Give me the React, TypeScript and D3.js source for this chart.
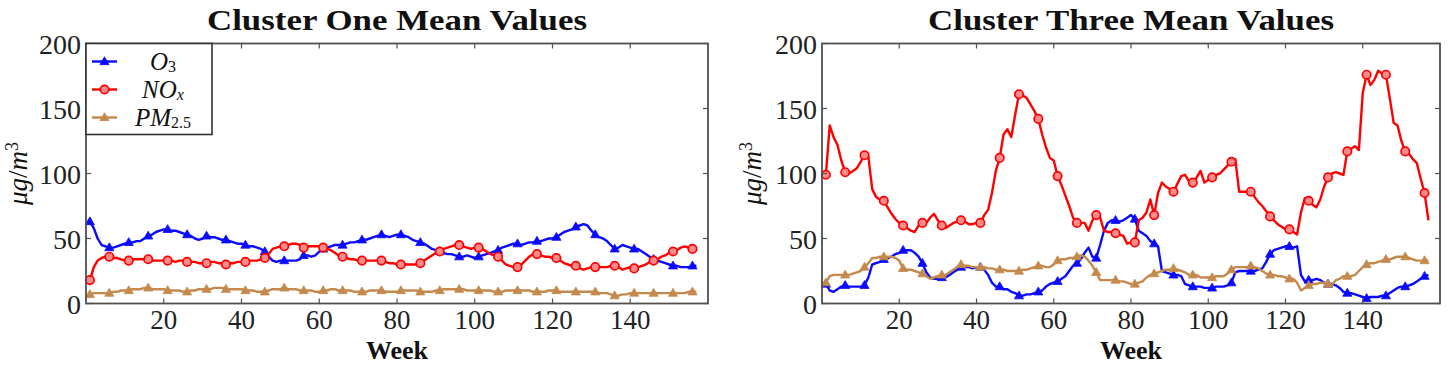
import React from 'react';
import * as d3 from 'd3';

// Weekly means, weeks 1..157
const weeks = d3.range(1, 158);

const clusterOneO3 = [
  63, 58, 50, 45, 44, 43, 43, 44, 45, 46,
  47, 47, 48, 48, 50, 52, 53, 55, 56, 57,
  57, 56, 56, 55, 54, 53, 52, 50, 49, 50,
  52, 51, 51, 50, 49, 49, 48, 47, 46, 46,
  45, 44, 44, 43, 42, 40, 36, 33, 32, 33,
  33, 33, 33, 33, 34, 37, 37, 36, 37, 40,
  42, 43, 44, 45, 45, 45, 46, 47, 47, 48,
  49, 49, 50, 51, 52, 53, 52, 51, 52, 53,
  53, 52, 51, 49, 48, 47, 46, 44, 42, 41,
  40, 39, 38, 38, 37, 36, 36, 37, 36, 35,
  36, 37, 38, 39, 40, 41, 43, 44, 45, 46,
  46, 45, 46, 47, 47, 48, 48, 49, 50, 50,
  51, 53, 55, 56, 57, 59, 60, 61, 60, 56,
  53, 51, 50, 48, 45, 42, 43, 45, 44, 43,
  42, 42, 40, 38, 36, 34, 33, 32, 31, 30,
  29, 29, 28, 28, 28, 29, 29,
];

const clusterOneNOx = [
  18, 28, 33, 35, 36, 36, 35, 35, 34, 33,
  33, 34, 34, 34, 34, 34, 33, 33, 33, 33,
  33, 33, 32, 33, 33, 32, 32, 32, 31, 31,
  31, 32, 32, 31, 31, 30, 31, 31, 32, 32,
  32, 33, 33, 33, 34, 35, 38, 42, 43, 44,
  44, 45, 46, 46, 45, 43, 44, 44, 44, 44,
  43, 42, 41, 39, 37, 36, 35, 34, 34, 33,
  33, 33, 33, 33, 33, 33, 32, 31, 31, 30,
  30, 30, 30, 30, 30, 31, 33, 35, 37, 39,
  40, 42, 43, 44, 45, 45, 44, 43, 42, 43,
  43, 42, 40, 38, 37, 36, 33, 30, 29, 28,
  28, 30, 33, 36, 38, 38, 37, 36, 36, 35,
  35, 33, 31, 30, 29, 29, 27, 26, 27, 28,
  28, 28, 28, 28, 29, 29, 28, 26, 27, 28,
  27, 28, 29, 30, 32, 33, 34, 36, 37, 39,
  40, 41, 43, 44, 43, 42, 42,
];

const clusterOnePM25 = [
  7, 8, 8, 8, 8, 8, 9, 9, 10, 10,
  10, 11, 11, 11, 12, 12, 11, 11, 11, 11,
  10, 10, 10, 10, 9, 9, 10, 10, 11, 11,
  11, 11, 12, 12, 12, 11, 11, 11, 11, 11,
  10, 10, 10, 9, 9, 9, 10, 11, 11, 11,
  12, 11, 11, 11, 10, 10, 10, 10, 9, 9,
  10, 10, 11, 11, 10, 10, 10, 10, 9, 9,
  9, 9, 10, 10, 10, 10, 9, 9, 9, 9,
  10, 10, 10, 10, 10, 9, 9, 9, 9, 10,
  10, 11, 11, 11, 11, 11, 11, 10, 10, 10,
  10, 10, 10, 10, 9, 9, 9, 10, 10, 10,
  10, 10, 10, 10, 9, 9, 9, 9, 10, 10,
  10, 9, 9, 9, 9, 9, 9, 9, 9, 9,
  9, 8, 8, 8, 7, 6, 6, 7, 7, 8,
  8, 8, 8, 8, 8, 8, 8, 8, 8, 8,
  8, 8, 8, 8, 9, 9, 9,
];

const clusterThreeO3 = [
  15, 10, 9, 11, 13, 14, 13, 13, 13, 13,
  14, 20, 30, 31, 32, 34, 35, 36, 38, 39,
  41, 41, 41, 39, 36, 31, 24, 20, 19, 19,
  20, 20, 22, 24, 26, 28, 28, 28, 27, 28,
  28, 26, 22, 16, 13, 13, 11, 11, 9, 8,
  6, 6, 7, 7, 8, 9, 10, 13, 15, 16,
  17, 19, 21, 25, 29, 31, 34, 39, 43, 36,
  35, 45, 56, 62, 64, 64, 63, 64, 66, 68,
  65, 56, 54, 52, 48, 46, 44, 25, 24, 23,
  22, 22, 21, 15, 14, 13, 13, 13, 12, 12,
  12, 13, 13, 13, 14, 16, 24, 25, 25, 25,
  25, 25, 26, 27, 32, 38, 41, 42, 43, 44,
  44, 43, 44, 22, 17, 18, 18, 19, 18, 16,
  15, 15, 14, 12, 9, 8, 8, 7, 6, 5,
  4, 5, 5, 5, 6, 6, 8, 10, 12, 13,
  13, 14, 15, 17, 19, 21, 22,
];

const clusterThreeNOx = [
  99, 137, 128, 122, 110, 101, 100, 102, 104, 109,
  114, 113, 88, 82, 80, 79, 74, 69, 65, 62,
  60, 58, 56, 55, 60, 62, 62, 66, 69, 64,
  60, 58, 60, 62, 63, 64, 63, 61, 61, 62,
  62, 68, 72, 85, 102, 112, 130, 134, 128, 145,
  161, 160, 158, 153, 148, 142, 130, 120, 112, 110,
  98, 91, 83, 75, 66, 62, 62, 62, 56, 64,
  68, 66, 56, 55, 55, 54, 53, 52, 46, 47,
  47, 64, 66, 70, 80, 68, 85, 93, 90, 88,
  86, 92, 98, 99, 94, 93, 97, 102, 93, 95,
  97, 99, 100, 103, 106, 109, 111, 86, 86, 86,
  86, 82, 78, 75, 71, 67, 64, 61, 59, 57,
  57, 55, 53, 70, 81, 79, 76, 74, 80, 90,
  97, 100, 101, 100, 99, 117, 119, 121, 118, 162,
  176, 168, 172, 179, 177, 176, 158, 139, 137, 125,
  117, 115, 111, 108, 96, 85, 64,
];

const clusterThreePM25 = [
  16, 21, 22, 22, 22, 22, 22, 23, 24, 25,
  28, 31, 35, 35, 36, 36, 36, 36, 35, 33,
  27, 26, 26, 25, 24, 23, 21, 19, 20, 21,
  22, 22, 24, 26, 28, 30, 29, 29, 28, 28,
  28, 28, 27, 27, 26, 26, 26, 25, 25, 25,
  25, 26, 26, 27, 28, 29, 29, 28, 28, 30,
  33, 34, 34, 35, 35, 36, 37, 36, 33, 29,
  24, 18, 18, 18, 18, 18, 17, 17, 16, 15,
  15, 16, 17, 20, 22, 23, 24, 25, 26, 26,
  27, 26, 25, 24, 22, 22, 22, 20, 20, 20,
  20, 21, 21, 21, 23, 26, 28, 28, 28, 28,
  29, 28, 27, 25, 23, 22, 22, 21, 21, 20,
  19, 19, 16, 10, 12, 14, 15, 15, 16, 16,
  15, 14, 18, 19, 21, 21, 21, 22, 25, 28,
  30, 31, 31, 32, 33, 34, 34, 35, 36, 36,
  36, 35, 34, 33, 33, 33, 33,
];

const xTicks = [20, 40, 60, 80, 100, 120, 140];
const yTicks = [0, 50, 100, 150, 200];

const WIDTH = 1449;
const HEIGHT = 365;
const FONT = "'Liberation Serif', 'Times New Roman', serif";
const FRAME = '#505050';

const BLUE = '#0a0aff';
const RED = '#ff0000';
const BROWN = '#c4894c';

type MarkerKind = 'triangle' | 'circle';
interface Series {
  key: string;
  values: number[];
  color: string;
  marker: MarkerKind;
}

const trianglePath = d3.symbol().type(d3.symbolTriangle).size(36)() as string;

function Marker({ kind, x, y, color }: { kind: MarkerKind; x: number; y: number; color: string }) {
  if (kind === 'circle') {
    return <circle cx={x} cy={y} r={4.2} fill="#ff8a8a" stroke={color} strokeWidth={1.7} />;
  }
  return <path d={trianglePath} transform={`translate(${x},${y + 0.5})`} fill={color} stroke={color} strokeWidth={0.8} />;
}

function LegendLabel({ kind, x, y }: { kind: string; x: number; y: number }) {
  const common = { x, y, textAnchor: 'middle' as const, fontFamily: FONT, fontSize: 25, fill: '#111' };
  if (kind === 'O3') {
    return (
      <text {...common}>
        <tspan fontStyle="italic">O</tspan>
        <tspan fontSize={16} dy={2.5}>3</tspan>
      </text>
    );
  }
  if (kind === 'NOx') {
    return (
      <text {...common}>
        <tspan fontStyle="italic">NO</tspan>
        <tspan fontSize={16} fontStyle="italic" dy={2.5}>x</tspan>
      </text>
    );
  }
  return (
    <text {...common}>
      <tspan fontStyle="italic">PM</tspan>
      <tspan fontSize={16} dy={2.5}>2.5</tspan>
    </text>
  );
}

interface PanelProps {
  left: number;
  right: number;
  top: number;
  bottom: number;
  title: string;
  titleLength: number;
  series: Series[];
  legend: boolean;
  yLabelX: number;
}

function Panel({ left, right, top, bottom, title, titleLength, series, legend, yLabelX }: PanelProps) {
  const x = d3.scaleLinear().domain([0, 160]).range([left, right]);
  const y = d3.scaleLinear().domain([0, 200]).range([bottom, top]);
  const line = d3
    .line<number>()
    .x((_, i) => x(weeks[i]))
    .y((v) => y(v));
  const cx = (left + right) / 2;
  const cy = (top + bottom) / 2;
  const tickLen = 5;

  return (
    <g>
      {/* title */}
      <text
        x={cx}
        y={30}
        textAnchor="middle"
        fontFamily={FONT}
        fontWeight="bold"
        fontSize={29}
        textLength={titleLength}
        lengthAdjust="spacingAndGlyphs"
        fill="#111"
      >
        {title}
      </text>

      {/* series */}
      {series.map((s) => (
        <g key={s.key}>
          <path d={line(s.values) as string} fill="none" stroke={s.color} strokeWidth={2.4} strokeLinejoin="round" />
          {s.values.map((v, i) =>
            i % 5 === 0 ? <Marker key={i} kind={s.marker} x={x(weeks[i])} y={y(v)} color={s.color} /> : null,
          )}
        </g>
      ))}

      {/* frame and ticks */}
      <rect x={left} y={top} width={right - left} height={bottom - top} fill="none" stroke={FRAME} strokeWidth={1.8} />
      {xTicks.map((t) => (
        <g key={`x${t}`}>
          <line x1={x(t)} x2={x(t)} y1={bottom} y2={bottom - tickLen} stroke={FRAME} strokeWidth={1.2} />
          <line x1={x(t)} x2={x(t)} y1={top} y2={top + tickLen} stroke={FRAME} strokeWidth={1.2} />
          <text x={x(t)} y={329} textAnchor="middle" fontFamily={FONT} fontSize={27} fill="#222">
            {t}
          </text>
        </g>
      ))}
      {yTicks.map((t) => (
        <g key={`y${t}`}>
          <line x1={left} x2={left + tickLen} y1={y(t)} y2={y(t)} stroke={FRAME} strokeWidth={1.2} />
          <line x1={right} x2={right - tickLen} y1={y(t)} y2={y(t)} stroke={FRAME} strokeWidth={1.2} />
          <text x={left - 5} y={y(t) + 10} textAnchor="end" fontFamily={FONT} fontSize={28} fill="#222">
            {t}
          </text>
        </g>
      ))}

      {/* axis labels */}
      <text x={cx} y={359} textAnchor="middle" fontFamily={FONT} fontWeight="bold" fontSize={26} fill="#111">
        Week
      </text>
      <text
        transform={`translate(${yLabelX},${cy}) rotate(-90)`}
        textAnchor="middle"
        fontFamily={FONT}
        fontSize={27}
        fill="#111"
      >
        <tspan fontStyle="italic">μg</tspan>
        <tspan>/</tspan>
        <tspan fontStyle="italic">m</tspan>
        <tspan fontSize={18} dy={-9}>3</tspan>
      </text>

      {/* legend */}
      {legend && (
        <g>
          <rect x={left} y={top} width={126} height={91} fill="#fff" stroke="#333" strokeWidth={1.6} />
          {series.map((s, i) => {
            const ly = top + 18 + i * 28;
            return (
              <g key={`lg${s.key}`}>
                <line x1={left + 6} x2={left + 31} y1={ly} y2={ly} stroke={s.color} strokeWidth={2.4} />
                <Marker kind={s.marker} x={left + 18.5} y={ly} color={s.color} />
                <LegendLabel kind={s.key} x={left + 77} y={ly + 8} />
              </g>
            );
          })}
        </g>
      )}
    </g>
  );
}

export default function App() {
  const clusterOne: Series[] = [
    { key: 'O3', values: clusterOneO3, color: BLUE, marker: 'triangle' },
    { key: 'NOx', values: clusterOneNOx, color: RED, marker: 'circle' },
    { key: 'PM25', values: clusterOnePM25, color: BROWN, marker: 'triangle' },
  ];
  const clusterThree: Series[] = [
    { key: 'O3', values: clusterThreeO3, color: BLUE, marker: 'triangle' },
    { key: 'NOx', values: clusterThreeNOx, color: RED, marker: 'circle' },
    { key: 'PM25', values: clusterThreePM25, color: BROWN, marker: 'triangle' },
  ];

  return (
    <svg
      width={WIDTH}
      height={HEIGHT}
      viewBox={`0 0 ${WIDTH} ${HEIGHT}`}
      style={{ position: 'absolute', left: 0, top: 0, background: '#fff' }}
    >
      <rect width={WIDTH} height={HEIGHT} fill="#fff" />
      <Panel
        left={86}
        right={708}
        top={43.5}
        bottom={303.5}
        title="Cluster One Mean Values"
        titleLength={380}
        series={clusterOne}
        legend={true}
        yLabelX={27}
      />
      <Panel
        left={822}
        right={1440}
        top={43.5}
        bottom={303.5}
        title="Cluster Three Mean Values"
        titleLength={406}
        series={clusterThree}
        legend={false}
        yLabelX={761}
      />
    </svg>
  );
}
